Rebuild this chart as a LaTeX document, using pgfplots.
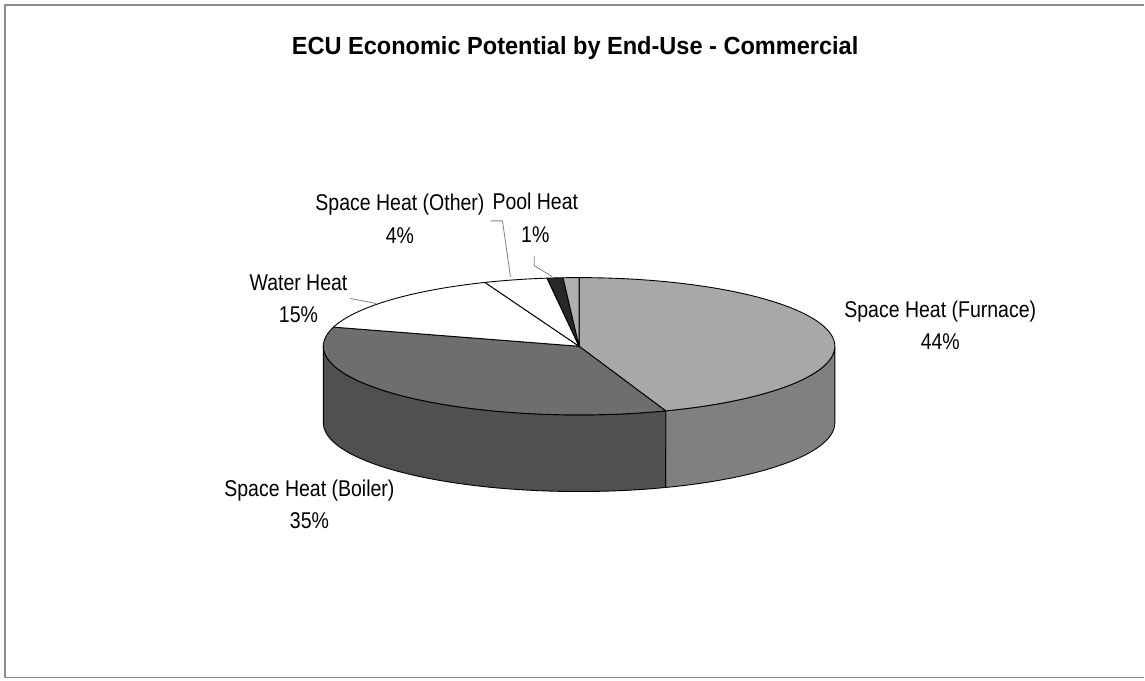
\documentclass[border=0pt]{standalone}
\usepackage{fontspec}
\setmainfont{Liberation Sans}
\usepackage{pgfplots}
\usepackage{pgfplotstable}
\pgfplotsset{compat=1.18}

\pgfplotstableread{
label value
Furnace 44.5
Boiler 35.0
Water 14.5
Other 4.0
Pool 1.0
Misc 1.0
}\piedata

\newcommand\getv[2]{\pgfplotstablegetelem{#1}{value}\of\piedata\edef#2{\pgfplotsretval}}
\getv{0}\vA \getv{1}\vB \getv{2}\vC \getv{3}\vD \getv{4}\vE \getv{5}\vF
\pgfmathsetmacro\aA{90}
\pgfmathsetmacro\aB{\aA-3.6*\vA}
\pgfmathsetmacro\aC{\aB-3.6*\vB}
\pgfmathsetmacro\aD{\aC-3.6*\vC}
\pgfmathsetmacro\aE{\aD-3.6*\vD}
\pgfmathsetmacro\aF{\aE-3.6*\vE}
\pgfmathsetmacro\aG{\aF-3.6*\vF}

\def\cx{582}\def\cy{348}\def\rx{257}\def\ry{69}\def\dz{77}

\definecolor{furntop}{RGB}{168,168,168}
\definecolor{furnside}{RGB}{128,128,128}
\definecolor{boiltop}{RGB}{110,110,110}
\definecolor{boilside}{RGB}{80,80,80}
\definecolor{pooltop}{RGB}{40,40,40}
\definecolor{misctop}{RGB}{175,175,175}
\definecolor{framecol}{RGB}{140,140,140}

\newfontfamily\labfont[FakeStretch=0.855]{Liberation Sans}
\newfontfamily\titfont[FakeStretch=0.95]{Liberation Sans}

\begin{document}
\begin{tikzpicture}[
  lab/.style={align=center, font=\labfont\fontsize{23}{32.5}\selectfont},
  declare function={
    wang(\t,\a,\b)=(\t<100.5)*(\a+(\b-\a)*\t/100)+(\t>100.5)*(\b+(\a-\b)*(\t-101)/99);
    wdz(\t)=(\t>100.5);}]
\begin{axis}[
  width=1145bp, height=684bp, scale only axis,
  xmin=0, xmax=1145, ymin=0, ymax=684, y dir=reverse,
  xtick=\empty, ytick=\empty, axis line style={draw=none},
  clip=false,
  every axis plot/.append style={line width=0.9pt, line join=round},
]
% frame
\addplot[framecol, line width=1.5pt, no marks] coordinates {(1150,5) (5,5) (5,681) (1150,681)};
% side walls
\addplot[fill=furnside, draw=black, domain=0:200, samples=201, variable=\t]
  ({\cx+\rx*cos(wang(\t,0,\aB))}, {\cy-\ry*sin(wang(\t,0,\aB))+\dz*wdz(\t)}) -- cycle;
\addplot[fill=boilside, draw=black, domain=0:200, samples=201, variable=\t]
  ({\cx+\rx*cos(wang(\t,\aB,-180))}, {\cy-\ry*sin(wang(\t,\aB,-180))+\dz*wdz(\t)}) -- cycle;
% top slices
\addplot[fill=furntop, draw=black, domain=\aB:\aA, samples=100, variable=\t]
  ({\cx+\rx*cos(\t)}, {\cy-\ry*sin(\t)}) -- (axis cs:\cx,\cy) -- cycle;
\addplot[fill=boiltop, draw=black, domain=\aC:\aB, samples=100, variable=\t]
  ({\cx+\rx*cos(\t)}, {\cy-\ry*sin(\t)}) -- (axis cs:\cx,\cy) -- cycle;
\addplot[fill=white, draw=black, domain=\aD:\aC, samples=60, variable=\t]
  ({\cx+\rx*cos(\t)}, {\cy-\ry*sin(\t)}) -- (axis cs:\cx,\cy) -- cycle;
\addplot[fill=white, draw=black, domain=\aE:\aD, samples=20, variable=\t]
  ({\cx+\rx*cos(\t)}, {\cy-\ry*sin(\t)}) -- (axis cs:\cx,\cy) -- cycle;
\addplot[fill=pooltop, draw=black, domain=\aF:\aE, samples=10, variable=\t]
  ({\cx+\rx*cos(\t)}, {\cy-\ry*sin(\t)}) -- (axis cs:\cx,\cy) -- cycle;
\addplot[fill=misctop, draw=black, domain=\aG:\aF, samples=10, variable=\t]
  ({\cx+\rx*cos(\t)}, {\cy-\ry*sin(\t)}) -- (axis cs:\cx,\cy) -- cycle;
% leader lines
\addplot[gray, line width=0.8pt, no marks] coordinates {(352,300) (378,305)};
\addplot[gray, line width=0.8pt, no marks] coordinates {(493,222) (505,222) (513,278)};
\addplot[gray, line width=0.8pt, no marks] coordinates {(537,257) (537,267) (555,278)};
% title
\node[font=\titfont\fontsize{25}{30}\selectfont\bfseries] at (axis cs:578,48) {ECU Economic Potential by End-Use - Commercial};
% labels
\node[lab] at (axis cs:945,327) {Space Heat (Furnace)\\44\%};
\node[lab] at (axis cs:311,507) {Space Heat (Boiler)\\35\%};
\node[lab] at (axis cs:300,300) {Water Heat\\15\%};
\node[lab] at (axis cs:402,220) {Space Heat (Other)\\4\%};
\node[lab] at (axis cs:538,219) {Pool Heat\\1\%};
\end{axis}
\end{tikzpicture}
\end{document}
